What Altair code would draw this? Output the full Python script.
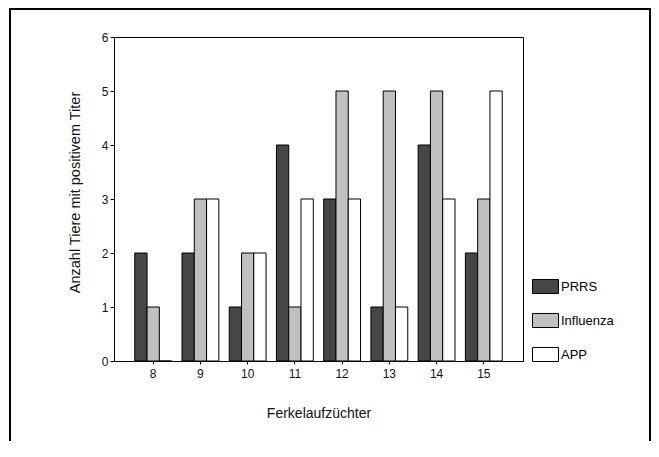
import altair as alt
import pandas as pd

categories = ["8", "9", "10", "11", "12", "13", "14", "15"]
series = ["PRRS", "Influenza", "APP"]
prrs = [2, 2, 1, 4, 3, 1, 4, 2]
influenza = [1, 3, 2, 1, 5, 5, 5, 3]
app = [0, 3, 2, 3, 3, 1, 3, 5]
colors = ["#464646", "#c0c0c0", "#ffffff"]
y_ticks = [0, 1, 2, 3, 4, 5, 6]

rows = []
for name, vals in zip(series, [prrs, influenza, app]):
    for c, v in zip(categories, vals):
        rows.append({"Ferkelaufzüchter": c, "Serie": name, "Wert": v})
df = pd.DataFrame(rows)

FONT = "Liberation Sans"

bars = alt.Chart(df).mark_bar(stroke="black", strokeWidth=1).encode(
    x=alt.X(
        "Ferkelaufzüchter:N",
        sort=categories,
        scale=alt.Scale(paddingInner=0.22, paddingOuter=0.44),
        axis=alt.Axis(
            title="Ferkelaufzüchter",
            labelAngle=0,
            tickSize=3,
            labelPadding=4,
            titleY=45,
            titleFontSize=14,
            titleFontWeight="normal",
        ),
    ),
    xOffset=alt.XOffset("Serie:N", sort=series, scale=alt.Scale(paddingInner=0, paddingOuter=0)),
    y=alt.Y(
        "Wert:Q",
        scale=alt.Scale(domain=[0, 6], nice=False),
        axis=alt.Axis(
            title="Anzahl Tiere mit positivem Titer",
            values=y_ticks,
            grid=False,
            tickSize=4,
            labelPadding=2,
            titleX=-35,
            titleY=155,
            titleFontSize=14.5,
            titleFontWeight="normal",
            titleBaseline="alphabetic",
        ),
    ),
    color=alt.Color(
        "Serie:N",
        sort=series,
        scale=alt.Scale(domain=series, range=colors),
        legend=alt.Legend(
            title=None,
            orient="none",
            legendX=418,
            legendY=236,
            symbolType="M-1,-0.54L1,-0.54L1,0.54L-1,0.54Z",
            symbolSize=676,
            symbolStrokeColor="black",
            symbolStrokeWidth=1,
            symbolOpacity=1,
            labelFontSize=13,
            labelFont=FONT,
            labelColor="black",
            labelOffset=2,
            rowPadding=11,
            padding=0,
        ),
    ),
)

frame = alt.Chart(pd.DataFrame({"f": [0]})).mark_rect(
    fillOpacity=0, stroke="black", strokeWidth=2, clip=False
).encode(
    x=alt.value(-104), x2=alt.value(536), y=alt.value(-28), y2=alt.value(470)
)

chart = alt.layer(frame, bars).properties(
    width=409,
    height=324,
    autosize=alt.AutoSizeParams(type="none"),
    padding={"left": 106, "top": 29, "right": 128, "bottom": 80},
    background="white",
).configure_view(
    stroke="black", strokeWidth=1
).configure_axis(
    labelFont=FONT,
    titleFont=FONT,
    labelFontSize=12,
    labelColor="#111111",
    titleColor="#111111",
    domainColor="black",
    tickColor="black",
    domainWidth=1,
)

chart.save("out.html", embed_options={"renderer": "svg", "actions": False})
